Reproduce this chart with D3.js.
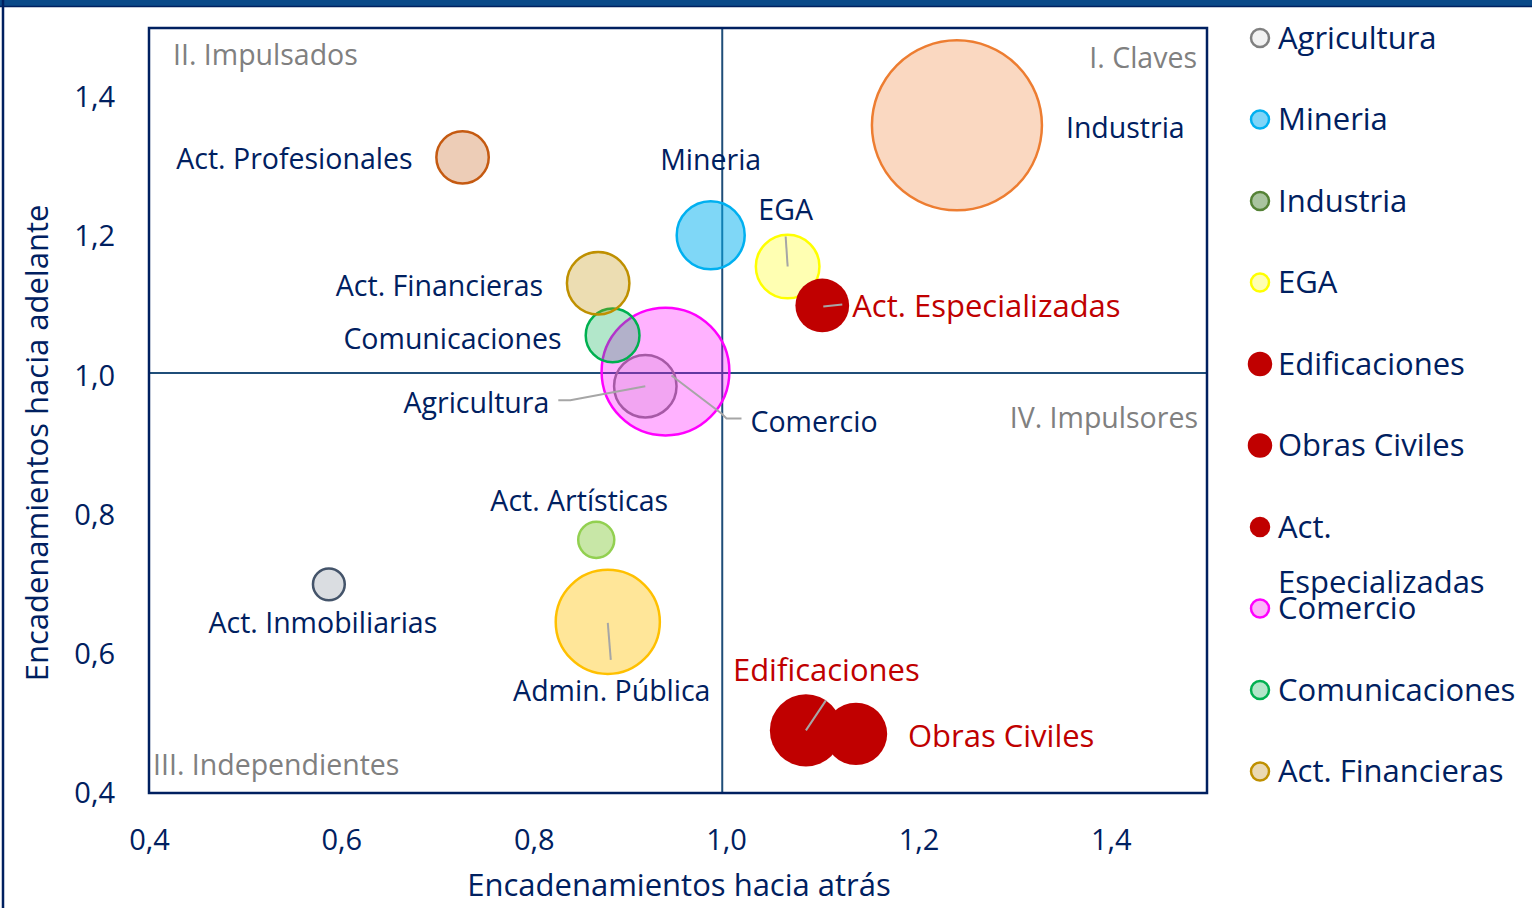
<!DOCTYPE html>
<html>
<head>
<meta charset="utf-8">
<script src="https://cdn.jsdelivr.net/npm/d3@7"></script>
<style>
  body { margin: 0; background: #fff; }
  text { font-family: "Open Sans", "Noto Sans", sans-serif; }
</style>
</head>
<body>
<script>
// sectors, in series order
var sectors = ["Agricultura", "Mineria", "Industria", "EGA", "Edificaciones", "Obras Civiles",
  "Act. Especializadas", "Comercio", "Comunicaciones", "Act. Financieras",
  "Act. Profesionales", "Admin. Pública", "Act. Artísticas", "Act. Inmobiliarias"];
var backward = [0.916, 0.984, 1.240, 1.064, 1.083, 1.135, 1.100, 0.937, 0.882, 0.867, 0.726, 0.877, 0.865, 0.587];
var forward  = [0.985, 1.202, 1.360, 1.157, 0.490, 0.485, 1.101, 1.006, 1.058, 1.133, 1.314, 0.646, 0.764, 0.700];
var weight   = [2.7, 3.2, 20, 2.8, 3.6, 2.7, 2.0, 11.3, 2.0, 2.7, 1.9, 7.5, 0.9, 0.7];

var legendNames = sectors.slice(0, 10);
var xTicks = [0.4, 0.6, 0.8, 1.0, 1.2, 1.4];
var yTicks = [0.4, 0.6, 0.8, 1.0, 1.2, 1.4];
var meanBack = 0.996, meanFwd = 1.004;

// styles
var strokes = ["#808080", "#00b0f0", "#ed7d31", "#ffff00", "#c00000", "#c00000", "#c00000",
  "#ff00ff", "#00b050", "#bf9000", "#c55a11", "#ffc000", "#92d050", "#44546a"];
var fillOp  = [0.15, 0.5, 0.3, 0.3, 1, 1, 1, 0.3, 0.3, 0.3, 0.3, 0.4, 0.5, 0.2];
var legFill   = ["#f2f2f2", "#7fd5f8", "#a9c49f", "#ffffb3", "#c00000", "#c00000", "#c00000", "#fbb6f8", "#b3e6c9", "#ead9b3"];
var legStroke = ["#808080", "#00b0f0", "#548235", "#ffff00", "#c00000", "#c00000", "#c00000", "#ff00ff", "#00b050", "#bf9000"];
var legR = [10, 10, 10, 10, 12, 12, 10, 10, 10, 10];

// label placement: dx, dy from bubble centre (px), anchor, colour, leader line
var labels = [
  {dx: -96, dy: 27, a: "end", c: "#002060", lead: [[-87, 14], [-75, 14], [0, 0]]},
  {dx: 0, dy: -65, a: "middle", c: "#002060"},
  {dx: 109, dy: 13, a: "start", c: "#002060"},
  {dx: -2, dy: -47, a: "middle", c: "#002060", lead: [[-2, -30], [0, 0]]},
  {dx: -73, dy: -49, a: "start", c: "#c00000", lead: [[20, -30], [0, 0]]},
  {dx: 52, dy: 13, a: "start", c: "#c00000"},
  {dx: 30, dy: 12, a: "start", c: "#c00000", lead: [[20, -1], [1, 1]]},
  {dx: 85, dy: 60, a: "start", c: "#002060", lead: [[6, 4], [56, 42], [61, 47], [76, 47]]},
  {dx: -51, dy: 14, a: "end", c: "#002060"},
  {dx: -55, dy: 13, a: "end", c: "#002060"},
  {dx: -50, dy: 12, a: "end", c: "#002060"},
  {dx: 4, dy: 79, a: "middle", c: "#002060", lead: [[3, 38], [0, 1]]},
  {dx: -17, dy: -29, a: "middle", c: "#002060"},
  {dx: -6, dy: 49, a: "middle", c: "#002060"}
];

var navy = "#002060";
var W = 1532, H = 908;
var plot = {left: 149, right: 1207, top: 28, bottom: 793};

var svg = d3.select("body").append("svg").attr("width", W).attr("height", H);

// outer frame
svg.append("rect").attr("x", 0).attr("y", 0).attr("width", W).attr("height", 6).attr("fill", "#0b4a89");
svg.append("line").attr("x1", 0).attr("x2", W).attr("y1", 6.5).attr("y2", 6.5).attr("stroke", navy).attr("stroke-width", 1.5);
svg.append("line").attr("x1", 3).attr("x2", 3).attr("y1", 0).attr("y2", H).attr("stroke", navy).attr("stroke-width", 2.5);

var x = d3.scaleLinear().domain([0.4, 1.5]).range([plot.left, plot.right]);
var y = d3.scaleLinear().domain([0.4, 1.5]).range([plot.bottom, plot.top]);
var r = d3.scaleSqrt().domain([0, 20]).range([0, 85]);
var fmt = function(d) { return d3.format(".1f")(d).replace(".", ","); };

// axes (labels only)
var xAxis = svg.append("g").attr("transform", "translate(0," + (plot.bottom + 10) + ")")
  .call(d3.axisBottom(x).tickValues(xTicks).tickFormat(fmt).tickSize(0).tickPadding(26));
var yAxis = svg.append("g").attr("transform", "translate(" + (plot.left - 34) + ",0)")
  .call(d3.axisLeft(y).tickValues(yTicks).tickFormat(fmt).tickSize(0).tickPadding(0));
[xAxis, yAxis].forEach(function(g) {
  g.select(".domain").remove();
  g.selectAll("text").attr("fill", navy).style("font-size", "29px")
    .style("font-family", "'Open Sans', sans-serif");
});

svg.append("text").attr("x", 679).attr("y", 896).attr("text-anchor", "middle")
  .attr("fill", navy).style("font-size", "31px").text("Encadenamientos hacia atrás");
svg.append("text").attr("transform", "translate(48,443) rotate(-90)").attr("text-anchor", "middle")
  .attr("fill", navy).style("font-size", "31px").text("Encadenamientos hacia adelante");

// quadrant lines
svg.append("line").attr("x1", x(meanBack)).attr("x2", x(meanBack)).attr("y1", plot.top).attr("y2", plot.bottom)
  .attr("stroke", "#1f4e79").attr("stroke-width", 2);
svg.append("line").attr("x1", plot.left).attr("x2", plot.right).attr("y1", y(meanFwd)).attr("y2", y(meanFwd))
  .attr("stroke", "#1f4e79").attr("stroke-width", 2);

// quadrant names
var quads = [
  {t: "II. Impulsados", x: plot.left + 24, y: plot.top + 37, a: "start"},
  {t: "I. Claves", x: plot.right - 10, y: plot.top + 40, a: "end"},
  {t: "IV. Impulsores", x: plot.right - 9, y: 428, a: "end"},
  {t: "III. Independientes", x: plot.left + 4, y: 775, a: "start"}
];
svg.selectAll(".quad").data(quads).enter().append("text")
  .attr("x", function(d) { return d.x; }).attr("y", function(d) { return d.y; })
  .attr("text-anchor", function(d) { return d.a; })
  .attr("fill", "#808080").style("font-size", "28.5px").text(function(d) { return d.t; });

// bubbles
svg.selectAll(".bubble").data(sectors).enter().append("circle")
  .attr("cx", function(d, i) { return x(backward[i]); })
  .attr("cy", function(d, i) { return y(forward[i]); })
  .attr("r", function(d, i) { return r(weight[i]); })
  .attr("fill", function(d, i) { return strokes[i]; })
  .attr("fill-opacity", function(d, i) { return fillOp[i]; })
  .attr("stroke", function(d, i) { return strokes[i]; })
  .attr("stroke-width", function(d, i) { return fillOp[i] == 1 ? 0 : 2.5; });

// leader lines
var line = d3.line();
sectors.forEach(function(s, i) {
  var L = labels[i];
  if (!L.lead) return;
  var cx = x(backward[i]), cy = y(forward[i]);
  svg.append("path")
    .attr("d", line(L.lead.map(function(p) { return [cx + p[0], cy + p[1]]; })))
    .attr("fill", "none").attr("stroke", "#a6a6a6").attr("stroke-width", 2);
});

// data labels (red ones are set larger)
svg.selectAll(".lbl").data(sectors).enter().append("text")
  .attr("x", function(d, i) { return x(backward[i]) + labels[i].dx; })
  .attr("y", function(d, i) { return y(forward[i]) + labels[i].dy; })
  .attr("text-anchor", function(d, i) { return labels[i].a; })
  .attr("fill", function(d, i) { return labels[i].c; })
  .style("font-size", function(d, i) { return labels[i].c == "#c00000" ? "31px" : "28.5px"; })
  .text(function(d) { return d; });

// plot frame
svg.append("rect").attr("x", plot.left).attr("y", plot.top)
  .attr("width", plot.right - plot.left).attr("height", plot.bottom - plot.top)
  .attr("fill", "none").attr("stroke", navy).attr("stroke-width", 2.5);

// legend
var leg = svg.selectAll(".leg").data(legendNames).enter().append("g")
  .attr("transform", function(d, i) { return "translate(1260," + (38 + i * 81.5) + ")"; });
leg.append("circle").attr("r", function(d, i) { return legR[i] - 1; })
  .attr("fill", function(d, i) { return legFill[i]; })
  .attr("stroke", function(d, i) { return legStroke[i]; }).attr("stroke-width", 2.5);
leg.append("text").attr("x", 18).attr("dy", "0.35em").attr("fill", navy)
  .style("font-size", "31px")
  .text(function(d) { return d == "Act. Especializadas" ? "Act." : d; });
// wrapped second line of the long legend entry
var iEsp = legendNames.indexOf("Act. Especializadas");
svg.append("text").attr("x", 1278).attr("y", 38 + iEsp * 81.5 + 55).attr("dy", "0.35em")
  .attr("fill", navy).style("font-size", "31px").text("Especializadas");
</script>
</body>
</html>
